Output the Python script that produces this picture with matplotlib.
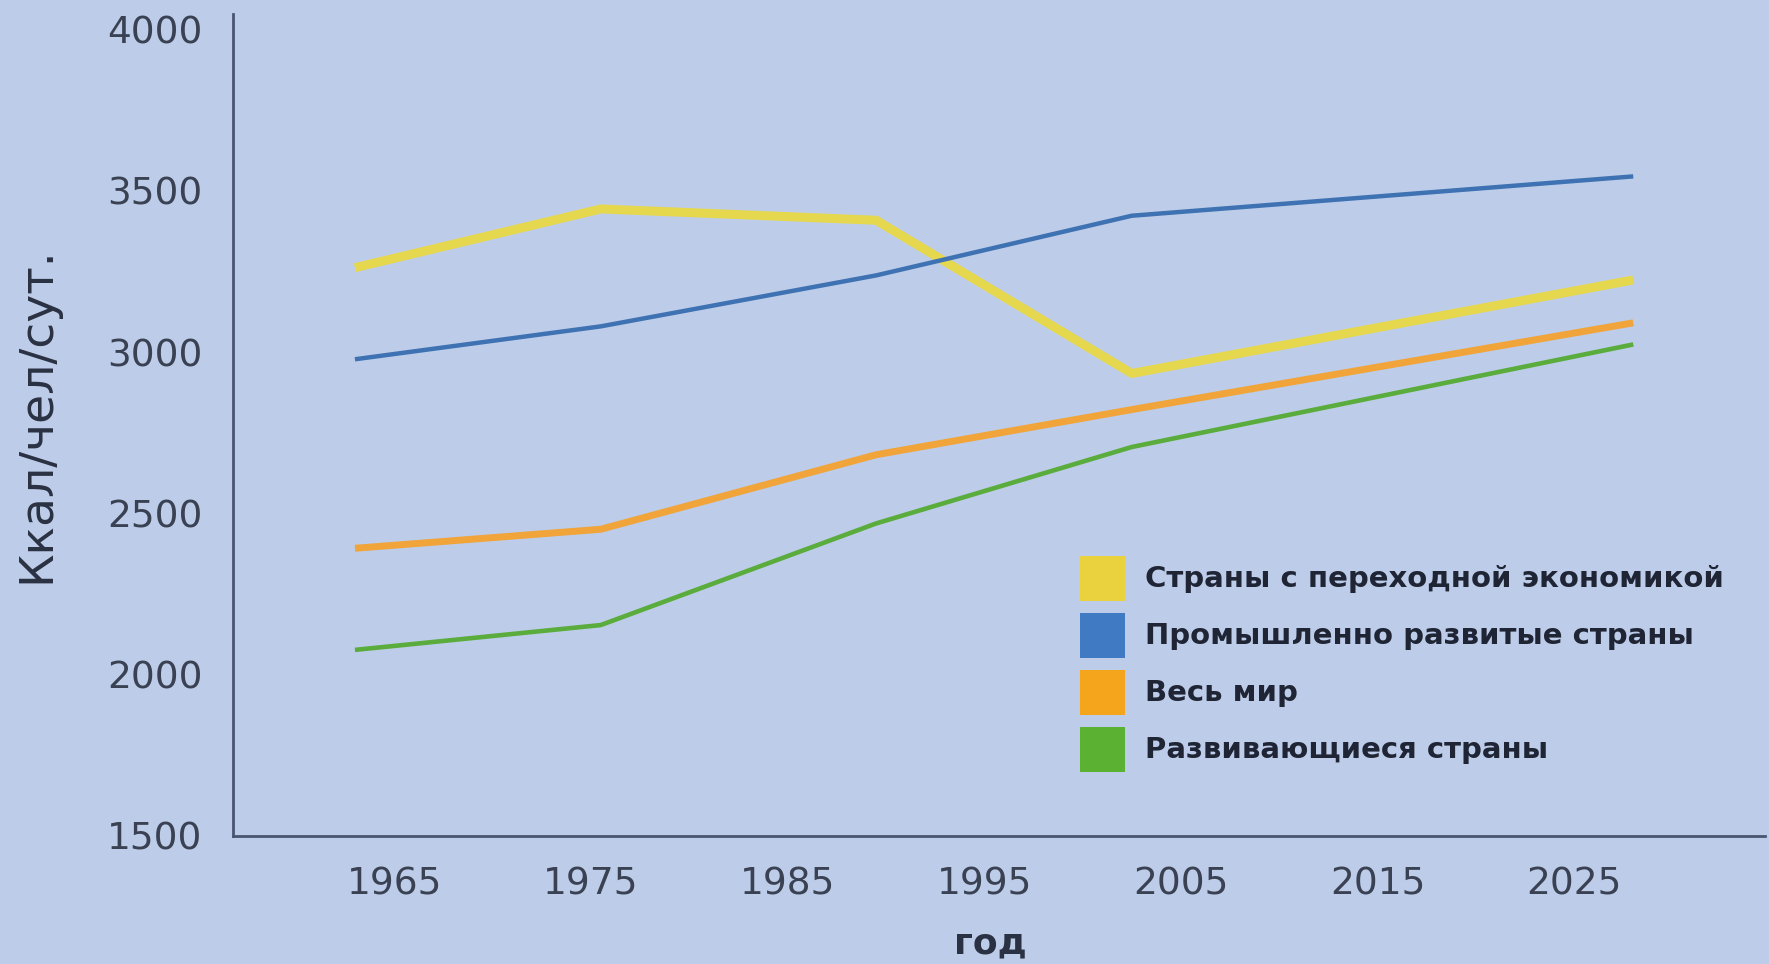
import matplotlib.pyplot as plt
from matplotlib.patches import Rectangle

plt.rcParams['font.family'] = ['DejaVu Sans']

years = [1963, 1975.5, 1989.5, 2002.5, 2028]
transition = [3262, 3444, 3409, 2934, 3224]
industrial = [2978, 3080, 3238, 3423, 3545]
world = [2392, 2451, 2682, 2822, 3091]
developing = [2077, 2154, 2469, 2706, 3024]

labels = ['Страны с переходной экономикой', 'Промышленно развитые страны',
          'Весь мир', 'Развивающиеся страны']
tick_years = [1965, 1975, 1985, 1995, 2005, 2015, 2025]
y_ticks = [1500, 2000, 2500, 3000, 3500, 4000]

bg = '#bdcde9'
line_colors = ['#e6d84e', '#3f72b2', '#f0a43a', '#5aac3c']
patch_colors = ['#ead23e', '#3f7ac2', '#f5a51c', '#5bb232']
widths = [6.5, 3.2, 5.0, 3.3]

W, H = 1769, 964
fig = plt.figure(figsize=(W / 100, H / 100), dpi=100, facecolor=bg)
ax = fig.add_axes([233 / W, 1 - 836 / H, 1532 / W, 822.5 / H])
ax.set_facecolor(bg)

for vals, c, w in zip([transition, industrial, world, developing], line_colors, widths):
    ax.plot(years, vals, color=c, lw=w, solid_capstyle='butt')

ax.set_xlim(1956.8, 2034.7)
ax.set_ylim(1500, 4050)
ax.set_xticks(tick_years)
ax.set_yticks(y_ticks)
ax.tick_params(length=0, labelsize=27, labelcolor='#3a4152')
ax.tick_params(axis='y', pad=22)
ax.tick_params(axis='x', pad=22)

for s in ['top', 'right']:
    ax.spines[s].set_visible(False)
for s in ['left', 'bottom']:
    ax.spines[s].set_color('#4a5670')
    ax.spines[s].set_linewidth(2)

ax.set_xlabel('год', fontsize=26, fontweight='bold', color='#2a3142')
ax.xaxis.set_label_coords((990 - 233) / 1532, -0.11)
ax.set_ylabel('Ккал/чел/сут.', fontsize=34, color='#2a3142')
ax.yaxis.set_label_coords(-0.1136, 0.512)

# legend: coloured squares with bold labels
for i, (lab, c) in enumerate(zip(labels, patch_colors)):
    yc = 579 + i * 57
    fig.patches.append(Rectangle((1080 / W, 1 - (yc + 22) / H), 45 / W, 45 / H,
                                 transform=fig.transFigure, facecolor=c, edgecolor='none'))
    fig.text(1145 / W, 1 - yc / H, lab, fontsize=21, fontweight='bold',
             color='#1f2535', va='center', ha='left')

fig.savefig('out.png', dpi=100, facecolor=bg)
